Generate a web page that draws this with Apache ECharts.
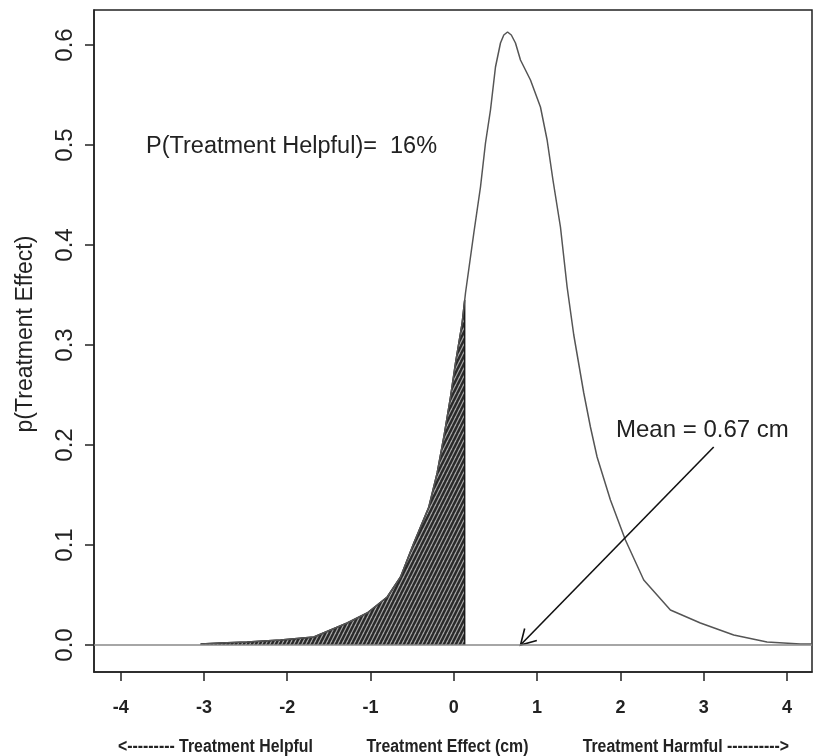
<!DOCTYPE html>
<html>
<head>
<meta charset="utf-8">
<script src="https://cdn.jsdelivr.net/npm/echarts@6/dist/echarts.min.js"></script>
<style>html,body{margin:0;padding:0;background:#fff;}#c{width:813px;height:756px;}</style>
</head>
<body>
<div id="c"></div>
<script>
// ---- data ----
const xTicks = [-4, -3, -2, -1, 0, 1, 2, 3, 4];
const yTicks = [0, 0.1, 0.2, 0.3, 0.4, 0.5, 0.6];
const curveX = [-3.04,-2.80,-2.48,-2.08,-1.68,-1.48,-1.28,-1.04,-0.80,-0.64,-0.48,-0.30,-0.20,-0.12,-0.04,0.02,0.10,0.14,0.24,0.32,0.38,0.44,0.50,0.56,0.60,0.645,0.69,0.74,0.80,0.92,1.04,1.12,1.19,1.28,1.36,1.44,1.56,1.64,1.72,1.88,2.06,2.28,2.60,2.96,3.36,3.76,4.16,4.30];
const curveY = [0.001,0.002,0.003,0.005,0.008,0.015,0.022,0.032,0.048,0.068,0.102,0.138,0.172,0.208,0.248,0.282,0.322,0.352,0.412,0.458,0.502,0.535,0.578,0.602,0.610,0.613,0.610,0.602,0.585,0.565,0.538,0.505,0.465,0.418,0.358,0.310,0.252,0.218,0.188,0.145,0.105,0.065,0.035,0.022,0.010,0.003,0.001,0.001];
const shadeX = [-3.04,-2.80,-2.48,-2.08,-1.68,-1.48,-1.28,-1.04,-0.80,-0.64,-0.48,-0.30,-0.20,-0.12,-0.04,0.02,0.10,0.13];
const shadeY = [0.001,0.002,0.003,0.005,0.008,0.015,0.022,0.032,0.048,0.068,0.102,0.138,0.172,0.208,0.248,0.282,0.322,0.345];
const arrowFrom = [3.12, 0.198];
const arrowTo = [0.80, 0.0];
const helpfulLabel = 'P(Treatment Helpful)=';
const helpfulValue = '16%';
const meanLabel = 'Mean = 0.67 cm';
const yTitle = 'p(Treatment Effect)';
const xTitleLeft = '<--------- Treatment Helpful';
const xTitleMid = 'Treatment Effect (cm)';
const xTitleRight = 'Treatment Harmful ---------->';

// ---- hatch pattern ----
function makeHatch() {
  const c = document.createElement('canvas');
  c.width = 4; c.height = 8;
  const g = c.getContext('2d');
  g.fillStyle = '#2a2a2a'; g.fillRect(0, 0, 4, 8);
  g.strokeStyle = '#a8a8a8'; g.lineWidth = 1.2;
  for (const k of [-4, 0, 4]) { g.beginPath(); g.moveTo(k, 8); g.lineTo(k + 4, 0); g.stroke(); }
  return c;
}

const curveData = curveX.map((x, i) => [x, curveY[i]]);
const shadeData = shadeX.map((x, i) => [x, shadeY[i]]);
shadeData.push([shadeX[shadeX.length - 1], 0]);

const FONT = '"Liberation Sans", Arial, sans-serif';
const NARROW_SCALE = 0.88;

const chart = echarts.init(document.getElementById('c'), null, { renderer: 'canvas' });
chart.setOption({
  animation: false,
  backgroundColor: '#fff',
  grid: { left: 94, top: 10, right: 1, bottom: 84, show: true, borderColor: '#222', borderWidth: 1.5, containLabel: false },
  xAxis: {
    type: 'value', min: -4.32, max: 4.30,
    axisLine: { show: true, onZero: false, lineStyle: { color: '#222', width: 1.5 } },
    axisTick: { show: true, length: 9, customValues: xTicks, lineStyle: { color: '#222', width: 1.5 } },
    axisLabel: { customValues: xTicks, margin: 27, fontFamily: FONT, fontWeight: 'bold', fontSize: 18, color: '#222' },
    splitLine: { show: false }
  },
  yAxis: {
    type: 'value', min: -0.027, max: 0.635,
    axisLine: { show: true, onZero: false, lineStyle: { color: '#222', width: 1.5 } },
    axisTick: { show: true, length: 9, customValues: yTicks, lineStyle: { color: '#222', width: 1.5 } },
    axisLabel: { customValues: yTicks, rotate: 90, margin: 17, fontFamily: FONT, fontSize: 24, color: '#222',
      formatter: v => v.toFixed(1) },
    splitLine: { show: false }
  },
  graphic: [
    { type: 'text', left: 146, top: 135, style: { text: helpfulLabel, font: '23.5px ' + FONT, fill: '#222' } },
    { type: 'text', left: 390, top: 135, style: { text: helpfulValue, font: '23.5px ' + FONT, fill: '#222' } },
    { type: 'text', left: 616, top: 418, style: { text: meanLabel, font: '24px ' + FONT, fill: '#222' } },
    { type: 'text', x: 26, y: 334, rotation: Math.PI / 2, style: { text: yTitle, font: '23px ' + FONT, fill: '#222', align: 'center', verticalAlign: 'middle' } },
    { type: 'text', x: 118, y: 747, scaleX: NARROW_SCALE, style: { text: xTitleLeft, font: 'bold 18px ' + FONT, fill: '#222', align: 'left', verticalAlign: 'middle' } },
    { type: 'text', x: 447.5, y: 747, scaleX: NARROW_SCALE, style: { text: xTitleMid, font: 'bold 18px ' + FONT, fill: '#222', align: 'center', verticalAlign: 'middle' } },
    { type: 'text', x: 789, y: 747, scaleX: NARROW_SCALE, style: { text: xTitleRight, font: 'bold 18px ' + FONT, fill: '#222', align: 'right', verticalAlign: 'middle' } }
  ],
  series: [
    {
      type: 'line', data: shadeData, symbol: 'none', smooth: false, silent: true, z: 2,
      lineStyle: { color: '#1a1a1a', width: 1.5 },
      areaStyle: { color: { image: makeHatch(), repeat: 'repeat' }, opacity: 1 }
    },
    {
      type: 'line', data: curveData, symbol: 'none', smooth: false, silent: true, z: 3,
      lineStyle: { color: '#555', width: 1.5 },
      markLine: { silent: true, symbol: 'none', label: { show: false },
        lineStyle: { color: '#888', width: 1.5, type: 'solid' }, data: [{ yAxis: 0 }] }
    },
    {
      type: 'custom', silent: true, z: 4, clip: false,
      data: [[arrowFrom[0], arrowFrom[1], arrowTo[0], arrowTo[1]]],
      encode: { x: [0, 2], y: [1, 3] },
      renderItem: function (params, api) {
        const p1 = api.coord([api.value(0), api.value(1)]);
        const p2 = api.coord([api.value(2), api.value(3)]);
        const ang = Math.atan2(p2[1] - p1[1], p2[0] - p1[0]);
        const L = 17, a = Math.PI / 6;
        const h1 = [p2[0] - L * Math.cos(ang - a), p2[1] - L * Math.sin(ang - a)];
        const h2 = [p2[0] - L * Math.cos(ang + a), p2[1] - L * Math.sin(ang + a)];
        return { type: 'group', children: [
          { type: 'line', shape: { x1: p1[0], y1: p1[1], x2: p2[0], y2: p2[1] }, style: { stroke: '#111', lineWidth: 1.6 } },
          { type: 'polyline', shape: { points: [h1, p2, h2] }, style: { stroke: '#111', lineWidth: 1.6, fill: null } }
        ] };
      }
    }
  ]
});
</script>
</body>
</html>
